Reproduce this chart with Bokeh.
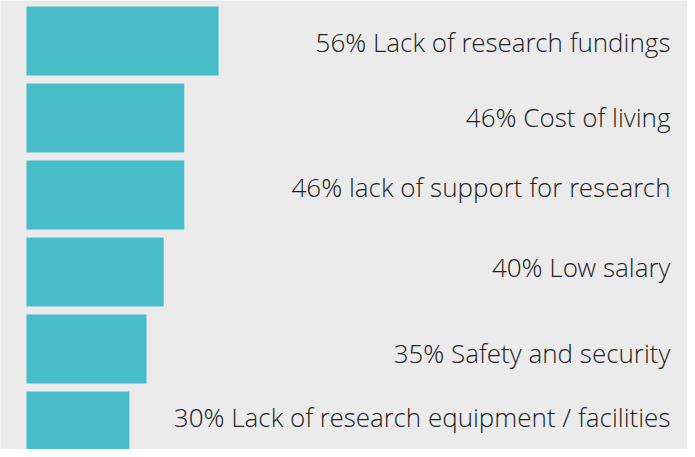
from bokeh.plotting import figure
from bokeh.models import ColumnDataSource, Range1d
from bokeh.core.properties import value
from bokeh.embed import file_html
from bokeh.resources import INLINE

categories = [
    "Lack of research fundings",
    "Cost of living",
    "lack of support for research",
    "Low salary",
    "Safety and security",
    "Lack of research equipment / facilities",
]
percents = [56, 46, 46, 40, 35, 30]

# style: small vertical nudges of each label (screen px), as in the original
label_nudge_px = [1, -1, -8, -5, 4, -9]

labels = [f"{v}% {c}" for v, c in zip(percents, categories)]
idx = list(range(len(categories)))

W, H = 687, 449
px_per_pct = 3.43
bar_left_px = 26
pitch_px = 77
first_center_px = 40.5

x_start = -bar_left_px / px_per_pct
x_end = x_start + W / px_per_pct
y_top = -first_center_px / pitch_px
y_bottom = y_top + H / pitch_px
text_x = x_end - 17 / px_per_pct

src = ColumnDataSource(dict(y=idx, v=percents, label=labels,
                            tx=[text_x] * len(idx), dy=label_nudge_px))

p = figure(width=W, height=H, output_backend="svg", toolbar_location=None,
           x_range=Range1d(x_start, x_end), y_range=Range1d(y_bottom, y_top),
           min_border=0, background_fill_color="#ebebeb",
           border_fill_color="#ebebeb", outline_line_color=None)
p.axis.visible = False
p.grid.visible = False

p.hbar(y="y", left=0, right="v", height=69 / 77, source=src,
       fill_color="#47bdca", line_color=None)
p.text(x="tx", y="y", text="label", source=src, y_offset="dy",
       text_align="right", text_baseline="middle",
       text_font=value("Open Sans Light"),
       text_font_size="26px", text_color="#222222")

open("out.html", "w").write(file_html(p, INLINE))
